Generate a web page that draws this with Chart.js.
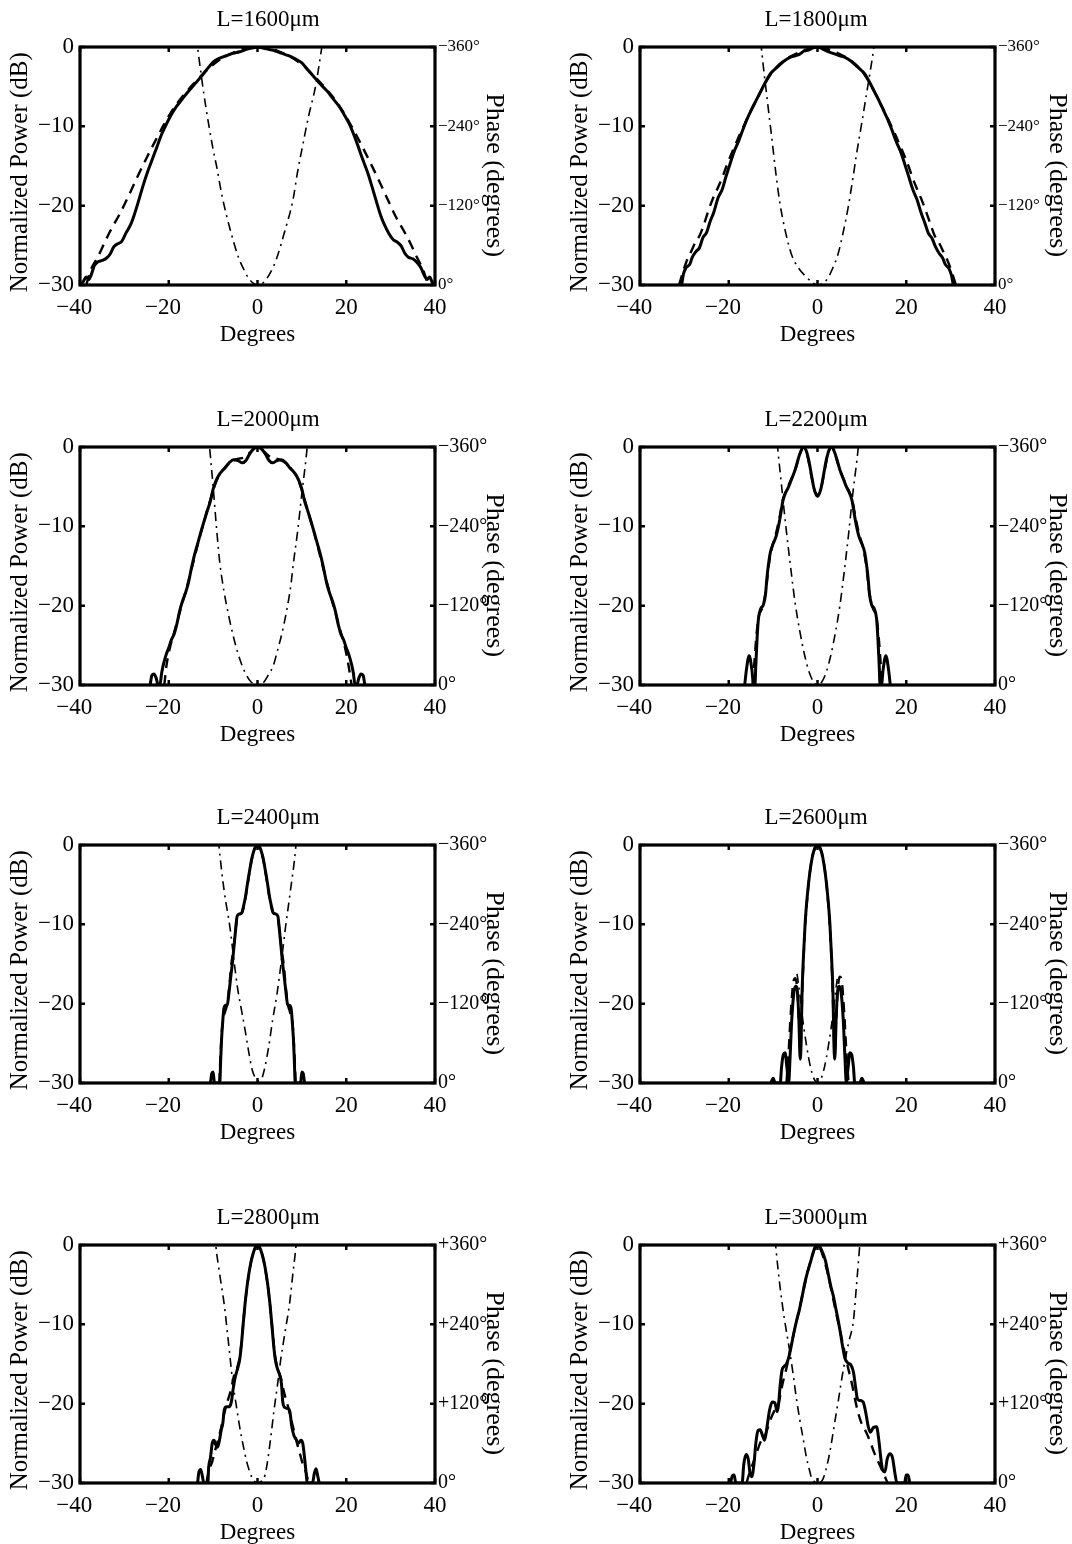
<!DOCTYPE html>
<html>
<head>
<meta charset="utf-8">
<script src="https://cdn.jsdelivr.net/npm/chart.js@4.4.1/dist/chart.umd.min.js"></script>
<style>
  html, body { margin: 0; padding: 0; background: #fff; overflow: hidden; }
  #page { position: relative; width: 1072px; height: 1544px; }
  canvas { position: absolute; }
</style>
</head>
<body>
<div id="page">
  <canvas id="p1600" width="536" height="350" style="left:0px;top:0px"></canvas>
  <canvas id="p1800" width="512" height="350" style="left:560px;top:0px"></canvas>
  <canvas id="p2000" width="536" height="350" style="left:0px;top:400px"></canvas>
  <canvas id="p2200" width="512" height="350" style="left:560px;top:400px"></canvas>
  <canvas id="p2400" width="536" height="350" style="left:0px;top:798px"></canvas>
  <canvas id="p2600" width="512" height="350" style="left:560px;top:798px"></canvas>
  <canvas id="p2800" width="536" height="350" style="left:0px;top:1198px"></canvas>
  <canvas id="p3000" width="512" height="350" style="left:560px;top:1198px"></canvas>
</div>
<script>
// waveguide lengths (µm), one panel each
const lengths = [1600, 1800, 2000, 2200, 2400, 2600, 2800, 3000];

// phase axis tick labels (0, 120, 240, 360)
const phaseTicksMinus = ['0°', '−120°', '−240°', '−360°'];
const phaseTicksPlus = ['0°', '+120°', '+240°', '+360°'];

// [angle in degrees, normalized power in dB] / [angle, phase in degrees]
const solid1600 = [[-40,-30],[-39.3,-29.6],[-38.6,-29],[-38,-29.3],[-37.4,-28.6],[-36.8,-27.6],[-36,-27.1],[-35,-26.9],[-34,-26.6],[-33.2,-26.1],[-32.4,-25.2],[-31.5,-24.8],[-30.6,-24.5],[-29.6,-23.4],[-28.6,-22.4],[-27.8,-21.2],[-26.8,-19.4],[-25.8,-17.5],[-24.8,-15.8],[-23.6,-14],[-22.6,-12.5],[-21.6,-11],[-20.6,-9.8],[-19.5,-8.6],[-18.4,-7.6],[-17,-6.6],[-15.6,-5.6],[-14.2,-4.7],[-12.8,-3.8],[-11.5,-2.9],[-10,-1.9],[-8.5,-1.4],[-7,-1.1],[-5.5,-0.8],[-4,-0.6],[-2.5,-0.3],[-1,-0.1],[0,0],[1,-0.1],[2.5,-0.3],[4,-0.5],[5.5,-0.8],[7,-1.1],[8.5,-1.5],[10,-2],[11.5,-3],[12.8,-3.8],[14.2,-4.7],[15.6,-5.5],[17,-6.5],[18.4,-7.5],[19.5,-8.5],[20.6,-9.6],[21.6,-10.9],[22.6,-12.4],[23.6,-14],[24.8,-15.8],[25.8,-17.6],[26.8,-19.5],[27.8,-21.3],[28.6,-22.4],[29.6,-23.5],[30.6,-24.3],[31.5,-24.6],[32.4,-25.1],[33.2,-26],[34,-26.5],[35,-26.7],[36,-27.2],[36.8,-27.8],[37.6,-28.8],[38.2,-29.3],[38.8,-29],[39.4,-29.7],[40,-30]];
const dashed1600 = [[-38.6,-30],[-37.5,-28],[-36,-26.5],[-34.5,-24.7],[-33,-23],[-31,-21],[-29,-18.7],[-27,-16.3],[-25,-14],[-23,-11.8],[-21,-9.7],[-19,-7.8],[-17,-6.3],[-15,-5],[-13,-3.8],[-11,-2.7],[-9,-1.8],[-7,-1.1],[-5,-0.6],[-3,-0.2],[0,0],[3,-0.2],[5,-0.6],[7,-1.1],[9,-1.8],[11,-2.7],[13,-3.8],[15,-5],[17,-6.3],[19,-7.9],[21,-9.8],[23,-11.9],[25,-14.1],[27,-16.4],[29,-18.8],[31,-21.2],[33,-23.2],[34.5,-24.8],[36,-26.6],[37.4,-28.2],[38.4,-30]];
const phase1600 = [[-15,440],[-14,390],[-13.5,360],[-12,285],[-10,205],[-9.2,179],[-8,135],[-6,80],[-4.2,40],[-3.4,28],[-2,10],[-1,3],[0,0],[1,2],[2,9],[3,20],[4.2,38],[6,78],[8,129],[9,170],[10.3,215],[11.5,255],[13,298],[14.5,360],[15.3,400]];

const solid1800 = [[-30.6,-30],[-30.2,-28.6],[-29.6,-27.8],[-28.8,-27.4],[-28.2,-26.5],[-27.4,-25.8],[-26.6,-25.3],[-25.8,-24],[-25,-23.4],[-24.2,-22],[-23.4,-20.9],[-22.4,-19],[-21.5,-18],[-20.6,-16.3],[-19.8,-14.9],[-18.8,-13.2],[-17.8,-11.9],[-16.8,-10.4],[-15.8,-9],[-14.8,-7.8],[-13.8,-6.7],[-12.8,-5.6],[-11.8,-4.5],[-10.8,-3.5],[-9.8,-2.9],[-8.8,-2.4],[-7.6,-1.8],[-6.2,-1.3],[-5,-1.1],[-4,-0.9],[-3,-0.5],[-2,-0.4],[-1,-0.1],[0,0],[1,-0.2],[2,-0.5],[3,-0.7],[4,-0.9],[5,-1.1],[6.2,-1.3],[7.6,-1.8],[8.8,-2.4],[9.8,-2.9],[10.8,-3.5],[11.8,-4.5],[12.8,-5.6],[13.8,-6.7],[14.8,-7.9],[15.8,-9.1],[16.8,-10.5],[17.8,-12],[18.8,-13.3],[19.8,-15],[20.6,-16.4],[21.5,-18],[22.4,-19.2],[23.4,-21],[24.2,-22.2],[25,-23.5],[25.8,-24.1],[26.6,-25.2],[27.4,-26],[28.2,-26.6],[28.8,-27.4],[29.6,-27.9],[30.2,-28.8],[30.6,-30]];
const dashed1800 = [[-31.2,-30],[-30.5,-28.7],[-29.5,-27],[-28.5,-25.8],[-27.5,-24.6],[-26.5,-23.7],[-25.5,-22.2],[-24.5,-20.5],[-23.5,-19],[-22.5,-17.8],[-21.5,-16.5],[-20.5,-15],[-19.5,-13.6],[-18.5,-12.3],[-17.5,-11],[-16.5,-9.8],[-15.5,-8.6],[-14.5,-7.5],[-13.5,-6.4],[-12.5,-5.3],[-11.5,-4.3],[-10.5,-3.4],[-9,-2.4],[-7,-1.5],[-5,-0.9],[-3,-0.4],[-1,-0.05],[0,0],[1,-0.05],[3,-0.4],[5,-0.9],[7,-1.5],[9,-2.4],[10.5,-3.4],[11.5,-4.3],[12.5,-5.3],[13.5,-6.4],[14.5,-7.5],[15.5,-8.6],[16.5,-9.8],[17.5,-11],[18.5,-12.3],[19.5,-13.6],[20.5,-15],[21.5,-16.6],[22.5,-18],[23.5,-19.3],[24.5,-20.8],[25.5,-22.4],[26.5,-23.9],[27.5,-24.8],[28.5,-26],[29.5,-27.2],[30.5,-28.8],[31.2,-30]];
const phase1800 = [[-13.2,400],[-12.5,349],[-11.5,290],[-10.4,228],[-9.4,170],[-8.5,125],[-7.2,80],[-5.8,45],[-4.2,25],[-2.5,12],[-1,3],[0,0],[1,2],[2.3,10],[3.4,25],[4.6,46],[5.8,80],[6.9,117],[7.9,158],[8.8,198],[9.8,238],[10.8,279],[11.8,320],[12.7,360],[13.3,400]];

const solid2000 = [[-24.2,-30],[-23.8,-28.8],[-23.3,-28.6],[-22.8,-29.2],[-22.4,-30],[-22,-30],[-21.6,-28.5],[-21.2,-27.4],[-20.6,-26.2],[-20,-25.3],[-19.4,-24.3],[-18.8,-23.6],[-18.2,-22.4],[-17.6,-20.8],[-17,-19.6],[-16.3,-18.5],[-15.6,-17.2],[-14.9,-15.3],[-14.2,-13.6],[-13.5,-12.2],[-12.8,-10.8],[-12,-9.3],[-11.3,-8],[-10.6,-6.8],[-10,-5.3],[-9.3,-4.2],[-8.4,-3.3],[-7.4,-2.7],[-6.4,-2],[-5.4,-1.6],[-4.4,-1.7],[-3.4,-2],[-2.6,-1.7],[-1.8,-0.9],[-1,-0.3],[0,0],[1,-0.3],[1.8,-0.9],[2.6,-1.7],[3.4,-2],[4.4,-1.7],[5.4,-1.6],[6.4,-2],[7.4,-2.7],[8.4,-3.3],[9.3,-4.2],[10,-5.3],[10.6,-6.8],[11.3,-8],[12,-9.3],[12.8,-10.8],[13.5,-12.2],[14.2,-13.6],[14.9,-15.3],[15.6,-17.2],[16.3,-18.5],[17,-19.6],[17.6,-20.8],[18.2,-22.4],[18.8,-23.6],[19.4,-24.3],[20,-25.3],[20.6,-26.2],[21.2,-27.4],[21.6,-28.5],[22,-30],[22.4,-30],[22.8,-29.2],[23.3,-28.6],[23.8,-28.8],[24.2,-30]];
const dashed2000 = [[-21,-30],[-20.5,-27.5],[-19.6,-25],[-18.6,-23],[-17.6,-21],[-16.6,-19],[-15.6,-17],[-14.6,-14.8],[-13.6,-12.6],[-12.6,-10.5],[-11.6,-8.5],[-10.6,-6.6],[-9.6,-4.8],[-8.6,-3.5],[-7.4,-2.6],[-6,-1.9],[-4.5,-1.5],[-3,-1.3],[-1.5,-0.6],[0,0],[1.5,-0.6],[3,-1.3],[4.5,-1.5],[6,-1.9],[7.4,-2.6],[8.6,-3.5],[9.6,-4.8],[10.6,-6.6],[11.6,-8.5],[12.6,-10.5],[13.6,-12.6],[14.6,-14.8],[15.6,-17],[16.6,-19],[17.6,-21],[18.6,-23],[19.6,-25],[20.5,-27.5],[21.2,-30]];
const phase2000 = [[-11.6,420],[-10.8,360],[-10,300],[-9.2,235],[-8.5,185],[-7.5,140],[-6.5,105],[-5.5,75],[-4.5,50],[-3.5,30],[-2.5,15],[-1.5,5],[-0.5,0.5],[0,0],[0.5,0.5],[1.5,5],[2.5,16],[3.5,28],[4.5,52],[5.5,78],[6.5,110],[7.5,150],[8.1,185],[9,230],[10,290],[11.2,360],[11.9,420]];

const solid2200 = [[-16.4,-30],[-16,-28],[-15.4,-26.3],[-14.8,-28],[-14.4,-30],[-14.1,-30],[-13.9,-27.5],[-13.6,-24],[-13.3,-21.6],[-12.8,-20.4],[-12.2,-19.9],[-11.7,-18.5],[-11.4,-16.5],[-11,-14.6],[-10.6,-13.2],[-10,-12.2],[-9.3,-11.2],[-8.8,-10],[-8.3,-8.5],[-7.8,-6.8],[-7.2,-5.8],[-6.5,-5],[-5.8,-4],[-5,-2.8],[-4.4,-1.6],[-3.8,-0.6],[-3.2,0],[-2.6,-0.4],[-2,-1.6],[-1.4,-3.4],[-0.8,-5.2],[0,-6.2],[0.8,-5.2],[1.4,-3.4],[2,-1.6],[2.6,-0.4],[3.2,0],[3.8,-0.6],[4.4,-1.6],[5,-2.8],[5.8,-4],[6.5,-5],[7.2,-5.8],[7.8,-6.8],[8.3,-8.5],[8.8,-10],[9.3,-11.2],[10,-12.2],[10.6,-13.2],[11,-14.6],[11.4,-16.5],[11.7,-18.5],[12.2,-19.9],[12.8,-20.4],[13.3,-21.6],[13.6,-24],[13.9,-27.5],[14.1,-30],[14.4,-30],[14.8,-28],[15.4,-26.3],[16,-28],[16.4,-30]];
const dashed2200 = [[-14.6,-30],[-14.2,-27],[-13.8,-24],[-13.3,-21.5],[-12.4,-20.2],[-11.6,-18],[-11,-15],[-10.3,-12.8],[-9.4,-11],[-8.6,-9],[-7.8,-6.6],[-6.8,-5.2],[-5.8,-3.9],[-4.8,-2.5],[-4,-1],[-3.2,0],[-2.4,-0.8],[-1.4,-3.6],[-0.6,-5.6],[0,-6],[0.6,-5.6],[1.4,-3.6],[2.4,-0.8],[3.2,0],[4,-1],[4.8,-2.5],[5.8,-3.9],[6.8,-5.2],[7.8,-6.6],[8.6,-9],[9.4,-11],[10.3,-12.8],[11,-15],[11.6,-18],[12.4,-20.2],[13.3,-21.5],[13.8,-24],[14.2,-27],[14.6,-30]];
const phase2200 = [[-10,430],[-9,360],[-8,295],[-7,232],[-6,175],[-5,122],[-4,82],[-3,48],[-2,22],[-1,6],[0,0],[1,5],[2,20],[3,45],[4,78],[5,118],[6,170],[7,228],[8,292],[9.2,360],[10,425]];

const solid2400 = [[-10.6,-30],[-10.3,-28.8],[-10,-28.6],[-9.7,-30],[-8.5,-30],[-8.3,-27.2],[-8.1,-24.5],[-7.9,-22.8],[-7.6,-20.7],[-7.2,-20.2],[-6.8,-20.1],[-6.4,-18.5],[-6,-16.5],[-5.6,-14.6],[-5.2,-12.2],[-4.9,-10.5],[-4.6,-9],[-4.1,-8.7],[-3.5,-8.5],[-3.1,-7.6],[-2.7,-6.5],[-2.3,-5],[-1.8,-3.3],[-1.2,-1.5],[-0.6,-0.4],[0,0],[0.6,-0.4],[1.2,-1.5],[1.8,-3.3],[2.3,-5],[2.7,-6.5],[3.1,-7.6],[3.5,-8.5],[4.1,-8.7],[4.6,-9],[4.9,-10.5],[5.2,-12.2],[5.6,-14.6],[6,-16.5],[6.4,-18.5],[6.8,-20.1],[7.2,-20.2],[7.6,-20.7],[7.9,-22.8],[8.1,-24.5],[8.3,-27.2],[8.5,-30],[9.7,-30],[10,-28.6],[10.3,-28.8],[10.6,-30]];
const dashed2400 = [[-8.6,-30],[-8.3,-26],[-7.9,-22.5],[-7.3,-21],[-6.8,-20],[-6.3,-17.5],[-5.9,-15],[-5.5,-13.5],[-5.1,-11.5],[-4.7,-9.6],[-4.2,-8.8],[-3.6,-8.6],[-3.1,-7.8],[-2.6,-6.3],[-2.1,-4.5],[-1.5,-2.4],[-0.8,-0.7],[0,0],[0.8,-0.7],[1.5,-2.4],[2.1,-4.5],[2.6,-6.3],[3.1,-7.8],[3.6,-8.6],[4.2,-8.8],[4.7,-9.6],[5.1,-11.5],[5.5,-13.5],[5.9,-15],[6.3,-17.5],[6.8,-20],[7.3,-21],[7.9,-22.5],[8.3,-26],[8.6,-30]];
const phase2400 = [[-9.2,400],[-8.7,360],[-7.5,290],[-6.2,235],[-5.3,185],[-4.5,144],[-3.6,110],[-2.9,84],[-2,48],[-1.2,20],[-0.6,9],[0,3],[0.9,6],[1.6,22],[2.5,54],[3.4,95],[4.4,135],[5.3,180],[6.3,235],[7.4,290],[8.6,355],[9.1,400]];

const solid2600 = [[-10.5,-30],[-10,-29.4],[-9.5,-30],[-8.4,-30],[-8.1,-28],[-7.7,-26.4],[-7.3,-26.2],[-6.9,-28],[-6.5,-30],[-6.2,-27],[-5.8,-22],[-5.3,-18.5],[-4.9,-17.8],[-4.5,-18.6],[-4.2,-22],[-3.9,-27],[-3.7,-25],[-3.5,-19],[-3.2,-14.5],[-2.8,-10],[-2.3,-6.4],[-1.8,-3.8],[-1.2,-1.6],[-0.6,-0.4],[0,0],[0.6,-0.4],[1.2,-1.6],[1.8,-3.8],[2.3,-6.4],[2.8,-10],[3.2,-14.5],[3.5,-19],[3.7,-25],[3.9,-27],[4.2,-22],[4.5,-18.6],[4.9,-17.8],[5.3,-18.5],[5.8,-22],[6.2,-27],[6.5,-30],[6.9,-28],[7.3,-26.2],[7.7,-26.4],[8.1,-28],[8.4,-30],[9.5,-30],[10,-29.4],[10.5,-30]];
const dashed2600 = [[-7,-30],[-6.5,-26],[-6,-21],[-5.5,-17.5],[-5,-16.8],[-4.6,-18],[-4.2,-22],[-3.9,-26],[-3.7,-24],[-3.4,-18],[-3,-12.5],[-2.5,-8],[-2,-4.8],[-1.4,-2.2],[-0.7,-0.5],[0,0],[0.7,-0.5],[1.4,-2.2],[2,-4.8],[2.5,-8],[3,-12.5],[3.4,-18],[3.7,-24],[3.9,-26],[4.2,-22],[4.6,-18],[5,-16.6],[5.5,-17.3],[6,-21],[6.5,-26],[7,-30]];
const phase2600 = [[-4.6,165],[-4,135],[-3.5,105],[-3,80],[-2.5,58],[-2,38],[-1.5,22],[-1,10],[-0.5,3],[0,0],[0.5,3],[1,10],[1.5,22],[2,38],[2.5,58],[3,80],[3.5,105],[4,135],[4.6,165]];

const solid2800 = [[-13.5,-30],[-13.2,-28.6],[-12.8,-28.3],[-12.4,-29.2],[-12.1,-30],[-11.2,-30],[-11,-28],[-10.6,-26.8],[-10.2,-25],[-9.8,-24.6],[-9.4,-25.2],[-9,-25.5],[-8.6,-24.7],[-8.2,-23.4],[-7.8,-22.4],[-7.5,-20.8],[-7,-20.4],[-6.4,-20.4],[-5.9,-19.8],[-5.5,-18.2],[-5,-16.6],[-4.5,-15.6],[-4,-14.4],[-3.6,-12.4],[-3.2,-9.8],[-2.8,-7.4],[-2.4,-5.4],[-2,-3.8],[-1.5,-2.2],[-1,-1.1],[-0.5,-0.3],[0,0],[0.5,-0.3],[1,-1.1],[1.5,-2.2],[2,-3.8],[2.4,-5.4],[2.8,-7.4],[3.2,-9.8],[3.6,-12.4],[4,-14.4],[4.5,-15.6],[5,-16.4],[5.4,-17.5],[5.7,-19.8],[6.2,-20.5],[6.8,-20.6],[7.3,-21],[7.7,-22.8],[8.2,-24],[8.7,-24.5],[9.2,-25],[9.8,-24.6],[10.2,-25],[10.6,-26.8],[11,-29],[11.2,-30],[12.4,-30],[12.8,-28.8],[13.2,-28.2],[13.6,-29.2],[13.9,-30]];
const dashed2800 = [[-11.5,-30],[-11,-28.5],[-10.2,-27.3],[-9.6,-26],[-9,-24.8],[-8.3,-23.3],[-7.6,-21.5],[-6.8,-19.8],[-6,-18.3],[-5.3,-16.5],[-4.5,-15.3],[-3.9,-13.8],[-3.4,-11],[-2.9,-8],[-2.4,-5.5],[-1.8,-3.2],[-1.1,-1.3],[-0.5,-0.3],[0,0],[0.5,-0.3],[1.1,-1.3],[1.8,-3.2],[2.4,-5.5],[2.9,-8],[3.4,-11],[3.9,-13.8],[4.5,-15.5],[5.3,-16.8],[6,-18.6],[6.8,-20.2],[7.6,-22],[8.3,-23.6],[9,-25.2],[9.6,-26.4],[10.2,-27.6],[11,-28.8],[11.5,-30]];
const phase2800 = [[-10,410],[-9.4,360],[-8.5,315],[-7.5,270],[-6.5,210],[-5.6,154],[-4.8,118],[-4,84],[-3.2,56],[-2.5,34],[-1.8,18],[-1.3,9],[-0.6,2],[0,0],[0.7,2],[1.4,6],[2,22],[2.5,44],[3.1,75],[3.7,109],[4.5,148],[5.2,185],[6.2,228],[7.2,270],[8,318],[8.7,360],[9.2,400]];

const solid3000 = [[-19.6,-30],[-19.2,-29.1],[-18.8,-29],[-18.4,-30],[-17,-30],[-16.6,-27.6],[-16.1,-26.4],[-15.6,-27],[-15.2,-28.8],[-14.8,-29.2],[-14.3,-27.5],[-13.9,-25],[-13.4,-23.4],[-12.9,-23.3],[-12.4,-24],[-11.9,-24.6],[-11.4,-23],[-10.8,-20.8],[-10.2,-19.8],[-9.6,-19.9],[-9.1,-21],[-8.8,-20.2],[-8.4,-17.6],[-8,-15.8],[-7.5,-15.3],[-7,-15],[-6.4,-14],[-5.8,-12.4],[-5.3,-11],[-4.7,-9.5],[-4.1,-8.2],[-3.5,-6.6],[-2.9,-4.9],[-2.3,-3.5],[-1.6,-2.2],[-1,-1],[-0.5,-0.2],[0,0],[0.5,-0.2],[1.2,-1],[1.8,-2],[2.4,-3.6],[3,-5.2],[3.6,-6.5],[4.2,-8.2],[4.7,-9.6],[5.2,-11.2],[5.6,-12.6],[6.2,-14.3],[6.9,-14.9],[7.5,-15.1],[8.1,-16],[8.6,-18],[9,-19.4],[9.6,-19.6],[10.3,-19.8],[10.9,-21.2],[11.4,-22.8],[11.9,-23.6],[12.6,-23],[13.3,-22.9],[13.8,-24.5],[14.3,-27],[14.7,-28.4],[15.2,-28.6],[15.7,-27],[16.3,-26.3],[16.9,-26.8],[17.4,-28.6],[17.9,-30],[19.6,-30],[20,-29],[20.4,-29],[20.8,-30]];
const dashed3000 = [[-16,-30],[-15.2,-28.5],[-14.4,-27.3],[-13.6,-26],[-12.8,-24.8],[-12,-24.2],[-11.3,-23.2],[-10.6,-22],[-9.8,-21],[-9,-20.5],[-8.4,-19],[-7.8,-17.3],[-7.2,-16],[-6.6,-14.5],[-6,-12.8],[-5.3,-11],[-4.6,-9.3],[-3.9,-7.6],[-3.2,-5.8],[-2.4,-3.8],[-1.6,-2.1],[-0.8,-0.7],[0,0],[0.8,-0.7],[1.6,-2.1],[2.4,-3.8],[3.2,-5.9],[3.9,-7.8],[4.6,-9.6],[5.3,-11.4],[6,-13.2],[6.6,-14.8],[7.2,-16.2],[7.8,-17.6],[8.4,-19.3],[9,-20.8],[9.8,-22.3],[10.6,-23.2],[11.3,-24],[12,-25],[12.8,-26.2],[13.6,-27.2],[14.4,-28.2],[15.2,-29.2],[15.8,-30]];
const phase3000 = [[-10,400],[-9.3,350],[-8.5,300],[-7.5,250],[-6.3,201],[-5.5,165],[-4.8,130],[-4,96],[-3.2,66],[-2.5,39],[-1.9,22],[-1.4,9],[-0.7,2],[0,0],[0.7,1],[1.3,7],[1.8,18],[2.4,34],[3,55],[3.6,80],[4.7,125],[5.8,171],[7,212],[8.1,246],[8.8,300],[9.5,358],[10,400]];

const solidSeries = [solid1600, solid1800, solid2000, solid2200, solid2400, solid2600, solid2800, solid3000];
const dashedSeries = [dashed1600, dashed1800, dashed2000, dashed2200, dashed2400, dashed2600, dashed2800, dashed3000];
const phaseSeries = [phase1600, phase1800, phase2000, phase2200, phase2400, phase2600, phase2800, phase3000];

const FONT = "'Liberation Serif', 'Times New Roman', serif";
const PLOT_LEFT = 80, PLOT_RIGHT = 435, PLOT_BOTTOM = 285;

// minus sign hangs to the left of the digits, so pad the other side
const xLabel = v => v < 0 ? '\u2212' + Math.abs(v) + '\u2002' : String(v);
const yLabel = v => String(v).replace('-', '\u2212');

// black box round the plot area with short inward ticks, matlab style
const framePlugin = {
  id: 'frame',
  afterDraw(chart) {
    const { ctx, chartArea: a, scales } = chart;
    ctx.save();
    ctx.strokeStyle = '#000';
    ctx.lineWidth = 3.2;
    ctx.strokeRect(a.left, a.top, a.right - a.left, a.bottom - a.top);
    ctx.lineWidth = 2.5;
    ctx.beginPath();
    scales.x.ticks.forEach(t => {
      const px = scales.x.getPixelForValue(t.value);
      ctx.moveTo(px, a.bottom); ctx.lineTo(px, a.bottom - 5);
      ctx.moveTo(px, a.top); ctx.lineTo(px, a.top + 5);
    });
    scales.y.ticks.forEach(t => {
      const py = scales.y.getPixelForValue(t.value);
      ctx.moveTo(a.left, py); ctx.lineTo(a.left + 5, py);
      ctx.moveTo(a.right, py); ctx.lineTo(a.right - 5, py);
    });
    ctx.stroke();
    ctx.restore();
  }
};

function drawPanel(i) {
  const len = lengths[i];
  const canvas = document.getElementById('p' + len);
  const leftCol = i % 2 === 0;
  const phaseTicks = i >= 6 ? phaseTicksPlus : phaseTicksMinus;
  const phaseTickSize = i < 2 ? 17 : 20;
  const noGrid = { display: false, drawTicks: false };

  new Chart(canvas, {
    type: 'line',
    data: {
      datasets: [
        { data: solidSeries[i], borderColor: '#000', borderWidth: 3, yAxisID: 'y' },
        { data: dashedSeries[i], borderColor: '#000', borderWidth: 2.4, borderDash: [10, 7], yAxisID: 'y' },
        { data: phaseSeries[i], borderColor: '#000', borderWidth: 1.6, borderDash: [9, 5, 2, 5], yAxisID: 'y1' }
      ]
    },
    options: {
      responsive: false,
      animation: false,
      devicePixelRatio: 1,
      layout: { padding: 0 },
      elements: {
        point: { radius: 0 },
        line: { cubicInterpolationMode: 'monotone', borderJoinStyle: 'round', fill: false }
      },
      plugins: {
        legend: { display: false },
        tooltip: { enabled: false },
        title: {
          display: true,
          text: 'L=' + len + 'μm',
          color: '#000',
          font: { family: FONT, size: 23, weight: 'normal' },
          padding: { top: 6, bottom: 13.4 }
        }
      },
      scales: {
        x: {
          type: 'linear', min: -40, max: 40,
          grid: noGrid, border: { display: false },
          ticks: {
            stepSize: 20, padding: 9, maxRotation: 0, autoSkip: false, color: '#000',
            font: { family: FONT, size: 23 }, callback: xLabel
          },
          title: {
            display: true, text: 'Degrees', color: '#000',
            font: { family: FONT, size: 23 }, padding: { top: 0, bottom: 1 }
          },
          afterFit: s => { s.height = canvas.height - PLOT_BOTTOM; }
        },
        y: {
          position: 'left', min: -30, max: 0,
          grid: noGrid, border: { display: false },
          ticks: {
            stepSize: 10, padding: 6, color: '#000',
            font: { family: FONT, size: 23 }, callback: yLabel
          },
          title: {
            display: true, text: 'Normalized Power (dB)\u2002', color: '#000',
            font: { family: FONT, size: 25 }, padding: { top: 5, bottom: 0 }
          },
          afterFit: s => { s.width = PLOT_LEFT; }
        },
        y1: {
          position: 'right', min: 0, max: 360,
          grid: noGrid, border: { display: false },
          ticks: {
            stepSize: 120, padding: 3, color: '#000',
            font: { family: FONT, size: phaseTickSize },
            callback: v => phaseTicks[Math.round(v / 120)]
          },
          title: {
            display: true, text: '\u2002\u2009Phase (degrees)', color: '#000',
            font: { family: FONT, size: 26 }, padding: { top: leftCol ? 27 : 0, bottom: 0 }
          },
          afterFit: s => { s.width = canvas.width - PLOT_RIGHT; }
        }
      }
    },
    plugins: [framePlugin]
  });
}

lengths.forEach((len, i) => drawPanel(i));
</script>
</body>
</html>
